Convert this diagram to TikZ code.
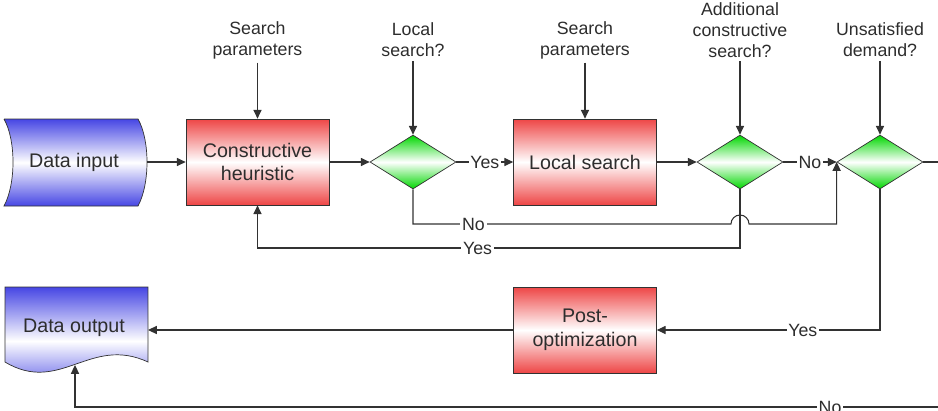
\documentclass[tikz,border=0pt]{standalone}
\usepackage{fontspec}
\setmainfont{Liberation Sans}
\usetikzlibrary{shapes.geometric,arrows.meta}
\definecolor{linec}{RGB}{50,50,50}
\definecolor{textc}{RGB}{45,45,45}
\definecolor{redc}{RGB}{238,70,70}
\definecolor{bluec}{RGB}{70,70,228}
\definecolor{greenc}{RGB}{0,215,0}
\begin{document}
\begin{tikzpicture}[x=0.02cm,y=-0.02cm,
  proc/.style={draw=linec, rectangle, minimum width=2.86cm, minimum height=1.72cm,
    top color=redc, bottom color=redc, middle color=white,
    font=\fontsize{11.2}{13.5}\selectfont, text=textc, align=center, inner sep=1pt},
  dec/.style={diamond, draw=linec, minimum width=1.72cm, minimum height=1.08cm,
    inner sep=0pt, shape aspect=1.6, top color=greenc, bottom color=greenc, middle color=white},
  lbl/.style={font=\fontsize{10.1}{12}\selectfont, text=textc, align=center, inner sep=2pt},
  onl/.style={font=\fontsize{10.1}{12}\selectfont, text=textc, fill=white, inner sep=1pt},
  arr/.style={draw=linec, line width=0.6pt, -{Triangle[length=5pt,width=4.6pt]}},
  ln/.style={draw=linec, line width=0.6pt}
]
\useasboundingbox (0,0) rectangle (938,410);
\clip (0,0) rectangle (938,410);

% Data input (stored data shape)
\path[draw=linec, top color=bluec, bottom color=bluec, middle color=white]
  (4,119) -- (138,119) .. controls (150,140) and (150,184) .. (138,206)
  -- (4,206) .. controls (16,184) and (16,140) .. (4,119);
\node[font=\fontsize{11.2}{13.5}\selectfont, text=textc] (din) at (74,162) {Data input};
\coordinate (dinR) at (147,162);

% Data output (document shape)
\path[draw=linec, top color=bluec, bottom color=bluec, middle color=white]
  (5,287) -- (148,287) -- (148,362) .. controls (90,335) and (60,395) .. (5,362) -- cycle;
\node[font=\fontsize{11.2}{13.5}\selectfont, text=textc] (dout) at (74,328) {Data output};
\coordinate (doutR) at (148,330);
\coordinate (doutB) at (75,365);

% Process boxes and decisions
\node[proc] (ch) at (257.5,162) {Constructive\\heuristic};
\node[dec] (d1) at (413,162) {};
\node[proc] (ls) at (585,162) {Local search};
\node[dec] (d2) at (740,162) {};
\node[dec] (d3) at (880,162) {};
\node[proc] (po) at (585,330) {Post-\\optimization};

% Top labels
\node[lbl] (sp1) at (257.5,40) {Search\\parameters};
\node[lbl] (q1) at (413,40) {Local\\search?};
\node[lbl] (sp2) at (585,40) {Search\\parameters};
\node[lbl] (q2) at (740,30) {Additional\\constructive\\search?};
\node[lbl] (q3) at (880,40) {Unsatisfied\\demand?};

\draw[arr] (sp1.south) -- (ch.north);
\draw[arr] (q1.south) -- (d1.north);
\draw[arr] (sp2.south) -- (ls.north);
\draw[arr] (q2.south) -- (d2.north);
\draw[arr] (q3.south) -- (d3.north);

% Main flow
\draw[arr] (dinR) -- (ch.west);
\draw[arr] (ch.east) -- (d1.west);
\draw[arr] (d1.east) -- node[onl]{Yes} (ls.west);
\draw[arr] (ls.east) -- (d2.west);
\draw[arr] (d2.east) -- node[onl]{No} (d3.west);

% Feedback loops
\coordinate (yNo) at (0,224);
\coordinate (yYes) at (0,248);
\coordinate (jmp) at (731,224);
\draw[arr] (d1.south) |- node[onl, pos=0.595]{No} (jmp) arc (180:360:9)
  -- (d3.west |- yNo) -- (d3.west);
\draw[arr] (d2.south) |- node[onl, pos=0.772]{Yes} (ch.south |- yYes) -- (ch.south);
\draw[arr] (d3.south) |- node[onl, pos=0.673]{Yes} (po.east);
\draw[arr] (po.west) -- (doutR);

% No: off the right edge and back along the bottom
\coordinate (farR) at (955,162);
\coordinate (farRB) at (955,407);
\draw[arr] (d3.east) -- (farR) -- (farRB) -- node[onl, pos=0.142]{No} (doutB |- farRB) -- (doutB);
\end{tikzpicture}
\end{document}
